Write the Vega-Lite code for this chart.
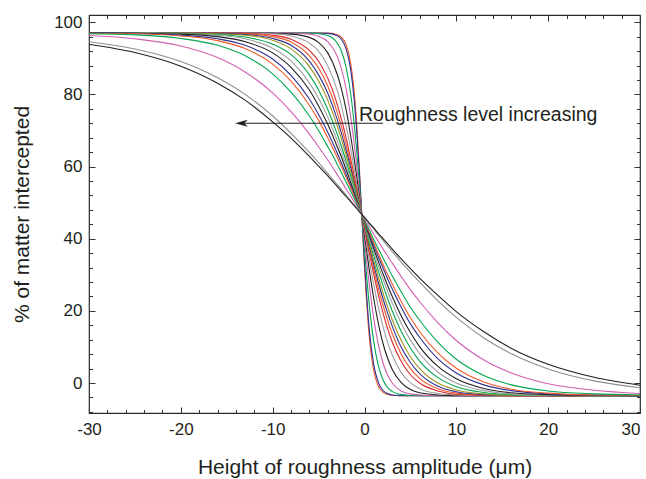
{
  "$schema": "https://vega.github.io/schema/vega-lite/v6.json",
  "width": 551,
  "height": 398,
  "autosize": {"type": "none"},
  "padding": {"left": 89, "top": 15, "right": 6, "bottom": 66},
  "background": "white",
  "config": {
    "font": "Liberation Sans",
    "view": {"stroke": "#2b2b2b", "strokeWidth": 1.2},
    "axis": {"grid": false, "domain": false, "labelColor": "#231f20", "titleColor": "#231f20", "tickColor": "#333333", "labelFont": "Liberation Sans", "titleFont": "Liberation Sans"}
  },
  "datasets": {
    "curves": [
      {"x": -30, "a": 97, "b": 97, "c": 97, "d": 97, "e": 97, "f": 97, "g": 97, "h": 97, "i": 97, "j": 97, "k": 97, "l": 97, "m": 97, "n": 97, "o": 96.9, "p": 96.8, "q": 96.3, "r": 94.6, "s": 93.9},
      {"x": -25, "a": 97, "b": 97, "c": 97, "d": 97, "e": 97, "f": 97, "g": 97, "h": 97, "i": 97, "j": 97, "k": 97, "l": 97, "m": 96.9, "n": 96.9, "o": 96.8, "p": 96.5, "q": 95.4, "r": 92.6, "s": 91.6},
      {"x": -20, "a": 97, "b": 97, "c": 97, "d": 97, "e": 97, "f": 97, "g": 97, "h": 97, "i": 97, "j": 97, "k": 96.9, "l": 96.8, "m": 96.7, "n": 96.4, "o": 96.2, "p": 95.5, "q": 93.4, "r": 89.1, "s": 87.8},
      {"x": -16, "a": 97, "b": 97, "c": 97, "d": 97, "e": 97, "f": 97, "g": 97, "h": 96.9, "i": 96.9, "j": 96.8, "k": 96.6, "l": 96.4, "m": 96.0, "n": 95.4, "o": 94.9, "p": 93.6, "q": 90.2, "r": 84.6, "s": 83.1},
      {"x": -13, "a": 97, "b": 97, "c": 97, "d": 97, "e": 97, "f": 97, "g": 96.9, "h": 96.8, "i": 96.6, "j": 96.4, "k": 95.9, "l": 95.4, "m": 94.6, "n": 93.6, "o": 92.7, "p": 90.7, "q": 86.2, "r": 80.0, "s": 78.4},
      {"x": -10, "a": 97, "b": 97, "c": 97, "d": 97, "e": 96.9, "f": 96.8, "g": 96.4, "h": 96.0, "i": 95.5, "j": 95.0, "k": 93.9, "l": 92.8, "m": 91.5, "n": 89.8, "o": 88.4, "p": 85.7, "q": 80.4, "r": 74.0, "s": 72.4},
      {"x": -8, "a": 97, "b": 97, "c": 97, "d": 97, "e": 96.7, "f": 96.2, "g": 95.3, "h": 94.5, "i": 93.6, "j": 92.6, "k": 91.0, "l": 89.3, "m": 87.5, "n": 85.3, "o": 83.7, "p": 80.6, "q": 75.2, "r": 69.2, "s": 67.9},
      {"x": -6, "a": 97, "b": 97, "c": 97, "d": 96.7, "e": 95.8, "f": 94.2, "g": 92.2, "h": 90.7, "i": 89.2, "j": 87.7, "k": 85.4, "l": 83.2, "m": 81.2, "n": 78.7, "o": 77.0, "p": 74.0, "q": 69.0, "r": 63.9, "s": 62.8},
      {"x": -5, "a": 97, "b": 97, "c": 96.8, "d": 96.1, "e": 94.4, "f": 92.0, "g": 89.2, "h": 87.3, "i": 85.4, "j": 83.7, "k": 81.2, "l": 78.9, "m": 76.8, "n": 74.4, "o": 72.8, "p": 70.0, "q": 65.5, "r": 61.1, "s": 60.1},
      {"x": -4, "a": 97, "b": 96.9, "c": 96.3, "d": 94.6, "e": 91.5, "f": 87.9, "g": 84.5, "h": 82.3, "i": 80.3, "j": 78.4, "k": 75.8, "l": 73.7, "m": 71.7, "n": 69.5, "o": 68.0, "p": 65.5, "q": 61.8, "r": 58.1, "s": 57.4},
      {"x": -3, "a": 96.6, "b": 96.3, "c": 94.3, "d": 90.7, "e": 85.8, "f": 81.4, "g": 77.5, "h": 75.3, "i": 73.3, "j": 71.5, "k": 69.2, "l": 67.4, "m": 65.7, "n": 63.9, "o": 62.7, "p": 60.8, "q": 57.9, "r": 55.1, "s": 54.6},
      {"x": -2.5, "a": 95.8, "b": 95.2, "c": 91.9, "d": 87.0, "e": 81.4, "f": 76.7, "g": 73.0, "h": 70.9, "i": 69.1, "j": 67.5, "k": 65.5, "l": 63.9, "m": 62.5, "n": 60.9, "o": 59.9, "p": 58.2, "q": 55.9, "r": 53.6, "s": 53.1},
      {"x": -2, "a": 93.8, "b": 92.6, "c": 87.5, "d": 81.5, "e": 75.7, "f": 71.2, "g": 67.9, "h": 66.0, "i": 64.5, "j": 63.2, "k": 61.5, "l": 60.2, "m": 59.1, "n": 57.8, "o": 57.0, "p": 55.7, "q": 53.8, "r": 52.1, "s": 51.7},
      {"x": -1.5, "a": 88.6, "b": 86.8, "c": 80.1, "d": 73.7, "e": 68.4, "f": 64.8, "g": 62.1, "h": 60.7, "i": 59.6, "j": 58.6, "k": 57.4, "l": 56.4, "m": 55.5, "n": 54.6, "o": 54.1, "p": 53.1, "q": 51.8, "r": 50.5, "s": 50.3},
      {"x": -1, "a": 77.1, "b": 75.0, "c": 68.6, "d": 63.7, "e": 60.0, "f": 57.6, "g": 55.9, "h": 55.0, "i": 54.3, "j": 53.8, "k": 53.0, "l": 52.4, "m": 51.9, "n": 51.4, "o": 51.0, "p": 50.5, "q": 49.7, "r": 49.0, "s": 48.8},
      {"x": -0.5, "a": 56.7, "b": 55.8, "c": 53.4, "d": 51.8, "e": 50.6, "f": 49.9, "g": 49.4, "h": 49.1, "i": 48.9, "j": 48.8, "k": 48.5, "l": 48.4, "m": 48.2, "n": 48.1, "o": 48.0, "p": 47.8, "q": 47.6, "r": 47.4, "s": 47.3},
      {"x": 0, "a": 32.1, "b": 33.4, "c": 36.8, "d": 39.3, "e": 41.0, "f": 42.1, "g": 42.8, "h": 43.2, "i": 43.5, "j": 43.8, "k": 44.1, "l": 44.3, "m": 44.6, "n": 44.8, "o": 44.9, "p": 45.1, "q": 45.5, "r": 45.8, "s": 45.9},
      {"x": 0.5, "a": 13.4, "b": 15.5, "c": 22.2, "d": 27.7, "e": 31.8, "f": 34.4, "g": 36.3, "h": 37.3, "i": 38.1, "j": 38.8, "k": 39.6, "l": 40.3, "m": 40.9, "n": 41.5, "o": 41.9, "p": 42.5, "q": 43.4, "r": 44.2, "s": 44.4},
      {"x": 1, "a": 3.5, "b": 5.2, "c": 11.6, "d": 18.0, "e": 23.5, "f": 27.4, "g": 30.2, "h": 31.7, "i": 32.9, "j": 34.0, "k": 35.3, "l": 36.3, "m": 37.3, "n": 38.2, "o": 38.9, "p": 39.8, "q": 41.3, "r": 42.7, "s": 43.0},
      {"x": 1.5, "a": -0.8, "b": 0.2, "c": 4.9, "d": 10.8, "e": 16.6, "f": 21.1, "g": 24.6, "h": 26.4, "i": 28.0, "j": 29.4, "k": 31.1, "l": 32.6, "m": 33.8, "n": 35.0, "o": 35.9, "p": 37.2, "q": 39.3, "r": 41.1, "s": 41.5},
      {"x": 2, "a": -2.5, "b": -2.0, "c": 1.0, "d": 5.7, "e": 11.1, "f": 15.8, "g": 19.6, "h": 21.7, "i": 23.5, "j": 25.1, "k": 27.2, "l": 28.9, "m": 30.4, "n": 32.0, "o": 33.0, "p": 34.7, "q": 37.2, "r": 39.6, "s": 40.1},
      {"x": 2.5, "a": -3.1, "b": -2.9, "c": -1.2, "d": 2.3, "e": 7.0, "f": 11.4, "g": 15.2, "h": 17.5, "i": 19.5, "j": 21.2, "k": 23.5, "l": 25.5, "m": 27.1, "n": 29.0, "o": 30.2, "p": 32.2, "q": 35.3, "r": 38.0, "s": 38.7},
      {"x": 3, "a": -3.4, "b": -3.3, "c": -2.3, "d": 0.1, "e": 3.9, "f": 7.9, "g": 11.5, "h": 13.8, "i": 15.9, "j": 17.7, "k": 20.1, "l": 22.3, "m": 24.1, "n": 26.2, "o": 27.6, "p": 29.8, "q": 33.3, "r": 36.5, "s": 37.2},
      {"x": 4, "a": -3.5, "b": -3.5, "c": -3.2, "d": -2.2, "e": 0.1, "f": 2.9, "g": 6.0, "h": 8.0, "i": 9.9, "j": 11.8, "k": 14.3, "l": 16.6, "m": 18.6, "n": 21.0, "o": 22.6, "p": 25.3, "q": 29.5, "r": 33.5, "s": 34.4},
      {"x": 5, "a": -3.5, "b": -3.5, "c": -3.4, "d": -3.0, "e": -1.8, "f": 0.1, "g": 2.3, "h": 4.0, "i": 5.7, "j": 7.3, "k": 9.7, "l": 11.9, "m": 14.0, "n": 16.4, "o": 18.1, "p": 21.0, "q": 25.9, "r": 30.7, "s": 31.7},
      {"x": 6, "a": -3.5, "b": -3.5, "c": -3.5, "d": -3.3, "e": -2.7, "f": -1.6, "g": 0.0, "h": 1.3, "i": 2.6, "j": 4.0, "k": 6.1, "l": 8.2, "m": 10.1, "n": 12.7, "o": 14.3, "p": 17.4, "q": 22.6, "r": 28.0, "s": 29.1},
      {"x": 8, "a": -3.5, "b": -3.5, "c": -3.5, "d": -3.5, "e": -3.3, "f": -2.9, "g": -2.2, "h": -1.6, "i": -0.9, "j": 0.0, "k": 1.5, "l": 3.0, "m": 4.6, "n": 6.7, "o": 8.3, "p": 11.3, "q": 16.7, "r": 22.8, "s": 24.3},
      {"x": 10, "a": -3.5, "b": -3.5, "c": -3.5, "d": -3.5, "e": -3.5, "f": -3.3, "g": -3.1, "h": -2.8, "i": -2.4, "j": -1.9, "k": -1.0, "l": 0.0, "m": 1.2, "n": 2.8, "o": 4.1, "p": 6.6, "q": 11.8, "r": 18.2, "s": 19.8},
      {"x": 13, "a": -3.5, "b": -3.5, "c": -3.5, "d": -3.5, "e": -3.5, "f": -3.5, "g": -3.4, "h": -3.3, "i": -3.2, "j": -3.0, "k": -2.6, "l": -2.1, "m": -1.5, "n": -0.5, "o": 0.3, "p": 2.1, "q": 6.4, "r": 12.5, "s": 14.2},
      {"x": 16, "a": -3.5, "b": -3.5, "c": -3.5, "d": -3.5, "e": -3.5, "f": -3.5, "g": -3.5, "h": -3.5, "i": -3.4, "j": -3.4, "k": -3.2, "l": -3.0, "m": -2.7, "n": -2.1, "o": -1.7, "p": -0.5, "q": 2.8, "r": 8.1, "s": 9.6},
      {"x": 20, "a": -3.5, "b": -3.5, "c": -3.5, "d": -3.5, "e": -3.5, "f": -3.5, "g": -3.5, "h": -3.5, "i": -3.5, "j": -3.5, "k": -3.4, "l": -3.4, "m": -3.2, "n": -3.0, "o": -2.8, "p": -2.2, "q": -0.2, "r": 3.9, "s": 5.2},
      {"x": 25, "a": -3.5, "b": -3.5, "c": -3.5, "d": -3.5, "e": -3.5, "f": -3.5, "g": -3.5, "h": -3.5, "i": -3.5, "j": -3.5, "k": -3.5, "l": -3.5, "m": -3.4, "n": -3.4, "o": -3.3, "p": -3.0, "q": -2.0, "r": 0.6, "s": 1.6},
      {"x": 30, "a": -3.5, "b": -3.5, "c": -3.5, "d": -3.5, "e": -3.5, "f": -3.5, "g": -3.5, "h": -3.5, "i": -3.5, "j": -3.5, "k": -3.5, "l": -3.5, "m": -3.5, "n": -3.5, "o": -3.4, "p": -3.3, "q": -2.9, "r": -1.3, "s": -0.6}
    ],
    "note": [
      {"x": 2.0, "xe": -13.4, "y": 72.0, "label": "Roughness level increasing", "tx": -0.6, "ty": 72.6}
    ]
  },
  "layer": [
    {
      "data": {"name": "curves"},
      "transform": [
        {"fold": ["a", "b", "c", "d", "e", "f", "g", "h", "i", "j", "k", "l", "m", "n", "o", "p", "q", "r", "s"], "as": ["curve", "value"]}
      ],
      "mark": {"type": "line", "interpolate": "monotone", "strokeWidth": 1.1},
      "encoding": {
        "x": {
          "field": "x", "type": "quantitative",
          "scale": {"domain": [-30, 30], "nice": false, "zero": false},
          "axis": {
            "orient": "bottom",
            "values": [-30, -28, -26, -24, -22, -20, -18, -16, -14, -12, -10, -8, -6, -4, -2, 0, 2, 4, 6, 8, 10, 12, 14, 16, 18, 20, 22, 24, 26, 28, 30],
            "labelExpr": "datum.value % 10 === 0 ? '' + datum.value : ''",
            "labelFlush": false,
            "labelOverlap": false,
            "labelAlign": {"condition": {"test": "datum.value === 30", "value": "right"}, "value": "center"},
            "labelFontSize": 17,
            "labelPadding": 14,
            "tickSize": {"condition": {"test": "datum.value % 10 === 0", "value": -6}, "value": -3.5},
            "title": "Height of roughness amplitude (μm)",
            "titleFontSize": 21,
            "titleFontWeight": "normal",
            "titlePadding": 17
          }
        },
        "y": {
          "field": "value", "type": "quantitative",
          "scale": {"domain": [-8.3, 102], "nice": false, "zero": false},
          "axis": {
            "orient": "left",
            "values": [-8, -4, 0, 4, 8, 12, 16, 20, 24, 28, 32, 36, 40, 44, 48, 52, 56, 60, 64, 68, 72, 76, 80, 84, 88, 92, 96, 100],
            "labelExpr": "datum.value % 20 === 0 ? '' + datum.value : ''",
            "labelFlush": false,
            "labelOverlap": false,
            "labelFontSize": 17,
            "labelPadding": 13,
            "tickSize": {"condition": {"test": "datum.value % 20 === 0", "value": -6}, "value": -3.5},
            "title": "% of matter intercepted",
            "titleFontSize": 21,
            "titleFontWeight": "normal",
            "titlePadding": 21
          }
        },
        "color": {
          "field": "curve", "type": "nominal",
          "scale": {
            "domain": ["a", "b", "c", "d", "e", "f", "g", "h", "i", "j", "k", "l", "m", "n", "o", "p", "q", "r", "s"],
            "range": ["#ef5a28", "#2e3192", "#00a651", "#d15fb0", "#231f20", "#a0a0a0", "#d7262b", "#ef5a28", "#2e3192", "#9d9420", "#00a651", "#a0a0a0", "#231f20", "#2e3192", "#ef5a28", "#00a651", "#d15fb0", "#8f8f8f", "#231f20"]
          },
          "legend": null
        }
      }
    },
    {
      "data": {"name": "note"},
      "mark": {"type": "rule", "color": "#231f20", "strokeWidth": 1.2},
      "encoding": {
        "x": {"field": "x", "type": "quantitative", "scale": {"domain": [-30, 30], "nice": false, "zero": false}, "axis": null},
        "x2": {"field": "xe"},
        "y": {"field": "y", "type": "quantitative", "scale": {"domain": [-8.3, 102], "nice": false, "zero": false}, "axis": null}
      }
    },
    {
      "data": {"name": "note"},
      "mark": {"type": "point", "shape": "M-1,0L1,-0.55L0.45,0L1,0.55Z", "filled": true, "color": "#231f20", "opacity": 1, "size": 160},
      "encoding": {
        "x": {"field": "xe", "type": "quantitative", "scale": {"domain": [-30, 30], "nice": false, "zero": false}, "axis": null},
        "y": {"field": "y", "type": "quantitative", "scale": {"domain": [-8.3, 102], "nice": false, "zero": false}, "axis": null}
      }
    },
    {
      "data": {"name": "note"},
      "mark": {"type": "text", "align": "left", "baseline": "alphabetic", "fontSize": 19.5, "font": "Liberation Sans", "color": "#231f20"},
      "encoding": {
        "x": {"field": "tx", "type": "quantitative", "scale": {"domain": [-30, 30], "nice": false, "zero": false}, "axis": null},
        "y": {"field": "ty", "type": "quantitative", "scale": {"domain": [-8.3, 102], "nice": false, "zero": false}, "axis": null},
        "text": {"field": "label"}
      }
    },
    {
      "data": {"name": "note"},
      "mark": {"type": "point", "opacity": 0},
      "encoding": {
        "x": {
          "field": "x", "type": "quantitative",
          "scale": {"domain": [-30, 30], "nice": false, "zero": false},
          "axis": {
            "orient": "top",
            "values": [-30, -28, -26, -24, -22, -20, -18, -16, -14, -12, -10, -8, -6, -4, -2, 0, 2, 4, 6, 8, 10, 12, 14, 16, 18, 20, 22, 24, 26, 28, 30],
            "labels": false,
            "tickSize": {"condition": {"test": "datum.value % 10 === 0", "value": -6}, "value": -3.5},
            "title": null
          }
        },
        "y": {
          "field": "y", "type": "quantitative",
          "scale": {"domain": [-8.3, 102], "nice": false, "zero": false},
          "axis": {
            "orient": "right",
            "values": [-8, -4, 0, 4, 8, 12, 16, 20, 24, 28, 32, 36, 40, 44, 48, 52, 56, 60, 64, 68, 72, 76, 80, 84, 88, 92, 96, 100],
            "labels": false,
            "tickSize": {"condition": {"test": "datum.value % 20 === 0", "value": -6}, "value": -3.5},
            "title": null
          }
        }
      }
    }
  ],
  "resolve": {"axis": {"x": "independent", "y": "independent"}}
}
